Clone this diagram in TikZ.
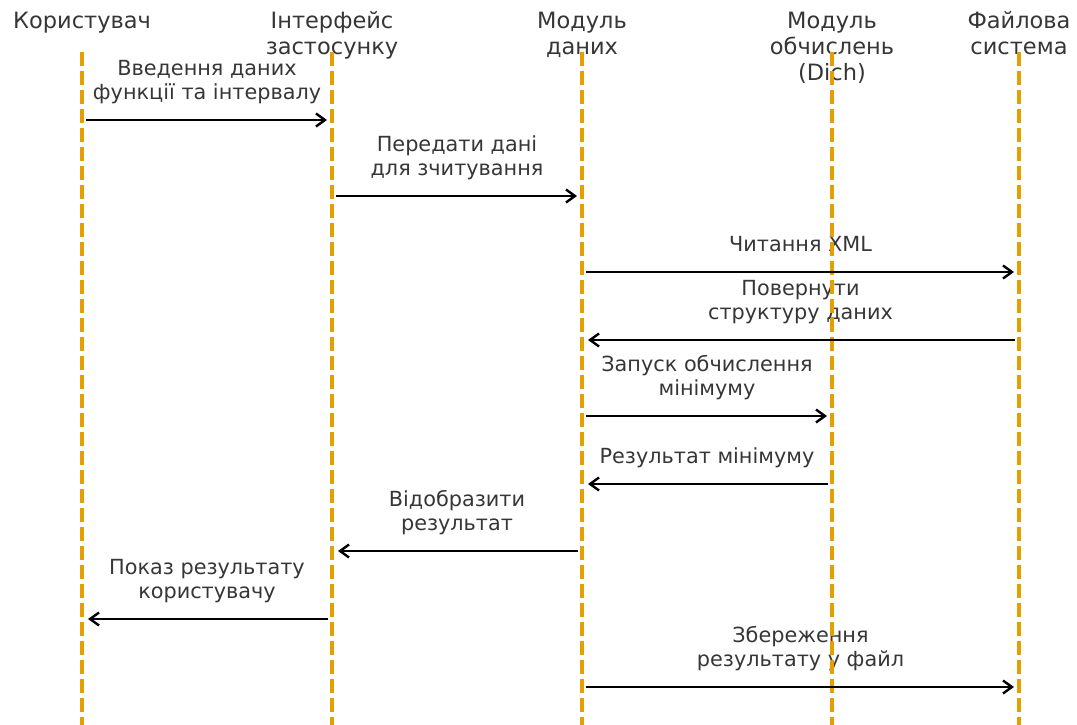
\documentclass[tikz,border=0pt]{standalone}
\usepackage{fontspec}
\setmainfont{DejaVu Sans}
\usetikzlibrary{calc,arrows.meta}
\definecolor{lifeorange}{HTML}{E69F00}
\definecolor{txtgray}{HTML}{363636}
\tikzset{
  hdr/.style={anchor=north, inner sep=0pt, text height=0pt, align=center,
    text=txtgray, font=\fontsize{22.5}{26}\selectfont},
  lbl/.style={anchor=south, inner sep=0pt, text depth=0pt, align=center,
    text=txtgray, font=\fontsize{20.8}{24}\selectfont},
  life/.style={draw=lifeorange, line width=3.5pt, dash pattern=on 14pt off 5pt},
  msg/.style={draw=black, line width=2.4pt,
    -{Straight Barb[length=9pt,width=13pt,line width=2.4pt]}},
}
\begin{document}
\begin{tikzpicture}[x=1pt,y=-1pt]
\useasboundingbox (0,0) rectangle (1077,725);
% headers (positioned at baseline of last line)
\node[hdr] (h1) at (82,28) {Користувач};
\node[hdr] (h2) at (332,54) {Інтерфейс\\застосунку};
\node[hdr] (h3) at (582,54) {Модуль\\даних};
\node[hdr] (h4) at (832,80) {Модуль\\обчислень\\(Dich)};
\node[hdr] (h5) at (1019,54) {Файлова\\система};
% rows
\coordinate (top) at (0,52);
\coordinate (bot) at (0,725);
\coordinate (r1) at (0,120);
\coordinate (r2) at (0,196);
\coordinate (r3) at (0,272);
\coordinate (r4) at (0,340);
\coordinate (r5) at (0,416);
\coordinate (r6) at (0,484);
\coordinate (r7) at (0,551);
\coordinate (r8) at (0,619);
\coordinate (r9) at (0,687);
% labels
\node[lbl] (m1) at ($(h1 |- r1)!0.5!(h2 |- r1)+(0,-20)$) {Введення даних\\функції та інтервалу};
\node[lbl] (m2) at ($(h2 |- r2)!0.5!(h3 |- r2)+(0,-20)$) {Передати дані\\для зчитування};
\node[lbl] (m3) at ($(h3 |- r3)!0.5!(h5 |- r3)+(0,-20)$) {Читання XML};
\node[lbl] (m4) at ($(h3 |- r4)!0.5!(h5 |- r4)+(0,-20)$) {Повернути\\структуру даних};
\node[lbl] (m5) at ($(h3 |- r5)!0.5!(h4 |- r5)+(0,-20)$) {Запуск обчислення\\мінімуму};
\node[lbl] (m6) at ($(h3 |- r6)!0.5!(h4 |- r6)+(0,-20)$) {Результат мінімуму};
\node[lbl] (m7) at ($(h2 |- r7)!0.5!(h3 |- r7)+(0,-20)$) {Відобразити\\результат};
\node[lbl] (m8) at ($(h1 |- r8)!0.5!(h2 |- r8)+(0,-20)$) {Показ результату\\користувачу};
\node[lbl] (m9) at ($(h3 |- r9)!0.5!(h5 |- r9)+(0,-20)$) {Збереження\\результату у файл};
% lifelines
\foreach \h in {h1,h2,h3,h4,h5}{
  \draw[life] (\h |- top) -- (\h |- bot);
}
% messages
\draw[msg] ($(h1 |- r1)+(4,0)$) -- ($(h2 |- r1)+(-5,0)$);
\draw[msg] ($(h2 |- r2)+(4,0)$) -- ($(h3 |- r2)+(-5,0)$);
\draw[msg] ($(h3 |- r3)+(4,0)$) -- ($(h5 |- r3)+(-5,0)$);
\draw[msg] ($(h5 |- r4)+(-4,0)$) -- ($(h3 |- r4)+(6,0)$);
\draw[msg] ($(h3 |- r5)+(4,0)$) -- ($(h4 |- r5)+(-5,0)$);
\draw[msg] ($(h4 |- r6)+(-4,0)$) -- ($(h3 |- r6)+(6,0)$);
\draw[msg] ($(h3 |- r7)+(-4,0)$) -- ($(h2 |- r7)+(6,0)$);
\draw[msg] ($(h2 |- r8)+(-4,0)$) -- ($(h1 |- r8)+(6,0)$);
\draw[msg] ($(h3 |- r9)+(4,0)$) -- ($(h5 |- r9)+(-5,0)$);
\end{tikzpicture}
\end{document}
